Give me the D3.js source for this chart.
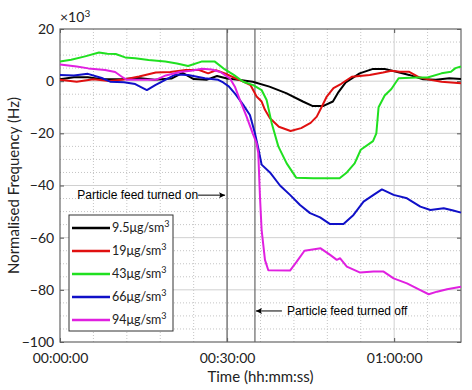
<!DOCTYPE html>
<html>
<head>
<meta charset="utf-8">
<script src="https://cdn.jsdelivr.net/npm/d3@7"></script>
<style>
  body { margin: 0; background: #fff; }
  svg { display: block; }
</style>
</head>
<body>
<div id="chart"></div>
<script>
// data: time in minutes, normalised frequency in units of 1e3 Hz
const series = ["9.5", "19", "43", "66", "94"];
const colors = ["#000000", "#e01010", "#20e020", "#1010c8", "#e020e0"];

const black = [[0,0.7],[2.5,1.5],[5,1.5],[7.5,0.7],[11,0.7],[14,1.2],[17,0.5],[20,1.0],[22,3.2],[24,0.8],[26.3,0.5],[28.2,2.0],[30,1.0],[32,0.5],[34.6,-0.2],[37.6,-2.1],[40.6,-4.6],[43.6,-7.8],[45.3,-9.5],[47.3,-9.5],[49,-7.8],[49.9,-4.5],[51.3,-0.5],[53.8,3.0],[56.2,4.7],[58.3,4.7],[60.4,3.6],[62.7,2.4],[65.2,0.7],[67.5,0.5],[69.9,1.1],[72,0.8]];
const red = [[0,0.5],[3,-0.2],[6,0.7],[8.8,0.1],[11.5,0.6],[14.2,1.8],[17.2,3.3],[19.8,3.5],[22.6,4.3],[25,4.3],[26.6,3.0],[28,4.2],[29.6,3.0],[31.1,1.5],[32.9,-0.2],[34.2,-1.5],[35.3,-5.9],[36.2,-7.8],[36.8,-11],[37.7,-14.2],[39.3,-17.5],[41.4,-19.1],[43.3,-18],[45,-16],[46.1,-13.6],[47,-9.8],[47.9,-5.9],[49.1,-2.7],[50.5,-1],[52.4,1.7],[55.6,2.4],[58,3.3],[59.5,4.0],[61,3.6],[62.7,3.6],[64.5,1.5],[66.5,0.5],[68.5,-0.2],[72,-0.8]];
const green = [[0,7.5],[2,8.2],[4.5,9.5],[7,11],[8.5,10.5],[10,10.4],[11.7,9.1],[13.5,8.8],[15.9,8.1],[18.9,7.5],[21,6.8],[23,5.8],[25.4,7.5],[27.8,7.5],[29.6,4.5],[31.2,2.4],[32.9,-0.2],[34.7,-1.5],[36.2,-3.4],[37.1,-7.2],[38,-16],[39.2,-25],[40.7,-31.5],[42.4,-37],[45.5,-37.2],[50.2,-37.2],[51.5,-35],[52.9,-31.5],[54,-26.3],[56.2,-23],[56.8,-20],[57.2,-10],[58.3,-5.5],[59.5,-3],[60.8,1.1],[64,1.4],[66,1.4],[68.5,3],[70.2,3.6],[71,5],[72,5.6]];
const blue = [[0,2.4],[2.5,2.2],[5,2.8],[7.5,1.2],[9,-0.2],[11.5,-0.4],[13.5,-1.1],[15.6,-3.4],[17.1,-1.5],[18.9,0.5],[20.8,2.6],[23,2.4],[26,1.1],[28.4,0.5],[29.3,-0.5],[30.3,-2],[31.5,-5.0],[32.9,-9.1],[34.1,-13],[35,-20],[35.6,-25.7],[36.2,-32],[37.7,-35],[39.5,-40],[41.3,-43.6],[43.1,-47.5],[44.9,-50.6],[46.7,-52.2],[48.5,-54.8],[50.9,-54.8],[52.7,-51.3],[54.5,-46.2],[56.3,-43.6],[57.8,-41.5],[59.9,-43.6],[62.3,-44.9],[64.7,-48.1],[66.5,-49.4],[68.9,-48.7],[70.6,-49.6],[72,-50.4]];
const magenta = [[0,6.4],[3,5.6],[5.1,4.9],[8.1,4.3],[9.9,3.5],[11.1,1.7],[12,0.5],[14.4,0.5],[17.2,0.5],[19,2.2],[21.5,3.5],[23.5,4.0],[25.5,4.8],[27.2,4.5],[28.8,3.5],[30.5,1.1],[31.4,-2.1],[32.3,-7.2],[33.5,-13.6],[34.6,-20],[35.3,-23.8],[35.6,-27.6],[35.9,-44],[36.2,-57],[36.8,-68.5],[37.4,-72.5],[41.3,-72.6],[42.5,-69.2],[43.9,-65],[46.8,-64.1],[48.5,-66.6],[49.7,-68.5],[50.3,-67.9],[51.5,-71.1],[53.9,-73.4],[56.3,-73],[58.1,-73],[59.9,-75.6],[62.3,-77.5],[64.7,-80.1],[66.2,-81.7],[67.7,-80.7],[69.5,-79.8],[72,-78.8]];

const xTicks = [0, 30, 60];
const xTickLabels = ["00:00:00", "00:30:00", "01:00:00"];
const yTicks = [20, 0, -20, -40, -60, -80, -100];
const feedOn = 30, feedOff = 35;

const W = 472, H = 390;
const margin = {top: 29, right: 11, bottom: 48, left: 60};
const width = W - margin.left - margin.right,
      height = H - margin.top - margin.bottom;

const svg = d3.select('#chart').append('svg')
  .attr('width', W).attr('height', H);

const g = svg.append('g').attr('transform', `translate(${margin.left},${margin.top})`);

const x = d3.scaleLinear().domain([0, 72]).range([0, width]);
const y = d3.scaleLinear().domain([-100, 20]).range([height, 0]);

// minor grid (dotted)
g.append('g').selectAll('line')
  .data(d3.range(-95, 20, 5).filter(v => v % 20 !== 0))
  .join('line')
  .attr('x1', 0).attr('x2', width)
  .attr('y1', d => y(d)).attr('y2', d => y(d))
  .attr('stroke', '#c4c4c4').attr('stroke-width', 1).attr('stroke-dasharray', '1,2');
g.append('g').selectAll('line')
  .data(d3.range(6, 72, 6).filter(v => v % 30 !== 0))
  .join('line')
  .attr('y1', 0).attr('y2', height)
  .attr('x1', d => x(d)).attr('x2', d => x(d))
  .attr('stroke', '#c4c4c4').attr('stroke-width', 1).attr('stroke-dasharray', '1,2');

// major grid
g.append('g').selectAll('line')
  .data(yTicks.slice(1, -1))
  .join('line')
  .attr('x1', 0).attr('x2', width)
  .attr('y1', d => y(d)).attr('y2', d => y(d))
  .attr('stroke', '#d0d0d0').attr('stroke-width', 1);
g.append('g').selectAll('line')
  .data(xTicks.slice(1))
  .join('line')
  .attr('y1', 0).attr('y2', height)
  .attr('x1', d => x(d)).attr('x2', d => x(d))
  .attr('stroke', '#d0d0d0').attr('stroke-width', 1);

// axes
const xAxis = g.append('g').attr('transform', `translate(0,${height})`)
  .call(d3.axisBottom(x).tickValues(xTicks).tickSizeInner(-4).tickSizeOuter(0)
    .tickFormat((d, i) => xTickLabels[i]));
const yAxis = g.append('g')
  .call(d3.axisLeft(y).tickValues(yTicks).tickSizeInner(-4).tickSizeOuter(0));
g.append('g').call(d3.axisTop(x).tickValues(xTicks).tickSizeInner(-4).tickSizeOuter(0).tickFormat(''));
g.append('g').attr('transform', `translate(${width},0)`)
  .call(d3.axisRight(y).tickValues(yTicks).tickSizeInner(-4).tickSizeOuter(0).tickFormat(''));

g.selectAll('.domain').attr('stroke', 'none');
g.selectAll('.tick line').attr('stroke', '#555');
xAxis.selectAll('text').attr('dy', '1.25em')
  .style('font-family', 'Lato, sans-serif').style('font-size', '14px').attr('fill', '#222');
yAxis.selectAll('text').attr('dx', '-0.2em')
  .style('font-family', 'Lato, sans-serif').style('font-size', '14px').attr('fill', '#222');

// frame
g.append('rect').attr('width', width).attr('height', height)
  .attr('fill', 'none').attr('stroke', '#666').attr('stroke-width', 1.2);

// feed markers
g.selectAll('.feed').data([feedOn, feedOff]).join('line')
  .attr('class', 'feed')
  .attr('x1', d => x(d)).attr('x2', d => x(d))
  .attr('y1', 0).attr('y2', height)
  .attr('stroke', '#666').attr('stroke-width', 1.2);

// series
const line = d3.line().x(d => x(d[0])).y(d => y(d[1]));
const allSeries = [black, red, green, blue, magenta];
g.selectAll('.series').data(allSeries).join('path')
  .attr('class', 'series')
  .attr('d', line)
  .attr('fill', 'none')
  .attr('stroke', (d, i) => colors[i])
  .attr('stroke-width', 2)
  .attr('stroke-linejoin', 'round');

// annotations
svg.append('defs').append('marker')
  .attr('id', 'arrow').attr('viewBox', '0 0 10 10')
  .attr('refX', 10).attr('refY', 5)
  .attr('markerWidth', 10).attr('markerHeight', 6)
  .attr('markerUnits', 'userSpaceOnUse')
  .attr('orient', 'auto-start-reverse')
  .append('path').attr('d', 'M0,0 L10,5 L0,10 L2,5 z').attr('fill', '#000');

const annFont = '"Liberation Sans", Arial, sans-serif';
const onY = -43.7, offY = -88.1;
g.append('text')
  .attr('x', x(feedOn) - 29).attr('y', y(onY))
  .attr('dy', '0.35em').attr('text-anchor', 'end')
  .style('font-family', annFont).style('font-size', '12px')
  .text('Particle feed turned on');
g.append('line')
  .attr('x1', x(feedOn) - 29).attr('x2', x(feedOn) - 2)
  .attr('y1', y(onY)).attr('y2', y(onY))
  .attr('stroke', '#000').attr('stroke-width', 1)
  .attr('marker-end', 'url(#arrow)');

g.append('text')
  .attr('x', x(feedOff) + 32).attr('y', y(offY))
  .attr('dy', '0.35em')
  .style('font-family', annFont).style('font-size', '12px')
  .text('Particle feed turned off');
g.append('line')
  .attr('x1', x(feedOff) + 27).attr('x2', x(feedOff) + 1)
  .attr('y1', y(offY)).attr('y2', y(offY))
  .attr('stroke', '#000').attr('stroke-width', 1)
  .attr('marker-end', 'url(#arrow)');

// legend
const lg = g.append('g').attr('transform', `translate(9,${186})`);
lg.append('rect').attr('width', 104).attr('height', 116)
  .attr('fill', '#fff').attr('stroke', '#333').attr('stroke-width', 1);
series.forEach((s, i) => {
  const yy = 13 + i * 23;
  lg.append('line').attr('x1', 3).attr('x2', 41).attr('y1', yy).attr('y2', yy)
    .attr('stroke', colors[i]).attr('stroke-width', 2.5);
  const t = lg.append('text').attr('x', 43).attr('y', yy).attr('dy', '0.35em')
    .style('font-family', 'Lato, sans-serif').style('font-size', '12.5px').attr('fill', '#222');
  t.append('tspan').text(s + 'μg/sm');
  t.append('tspan').attr('dy', '-0.55em').style('font-size', '9px').text('3');
});

// exponent label
const ex = svg.append('text').attr('x', margin.left).attr('y', 22)
  .style('font-family', 'Lato, sans-serif').style('font-size', '14px').attr('fill', '#222');
ex.append('tspan').text('×10');
ex.append('tspan').attr('dy', '-0.5em').style('font-size', '10px').text('3');

// axis labels
svg.append('text')
  .attr('x', margin.left + width / 2).attr('y', H - 8)
  .attr('text-anchor', 'middle')
  .style('font-family', 'Lato, sans-serif').style('font-size', '15px').attr('fill', '#222')
  .text('Time (hh:mm:ss)');
svg.append('text')
  .attr('transform', `translate(19,${margin.top + height / 2}) rotate(-90)`)
  .attr('text-anchor', 'middle')
  .style('font-family', 'Lato, sans-serif').style('font-size', '15px').attr('fill', '#222')
  .text('Normalised Frequency (Hz)');
</script>
</body>
</html>
